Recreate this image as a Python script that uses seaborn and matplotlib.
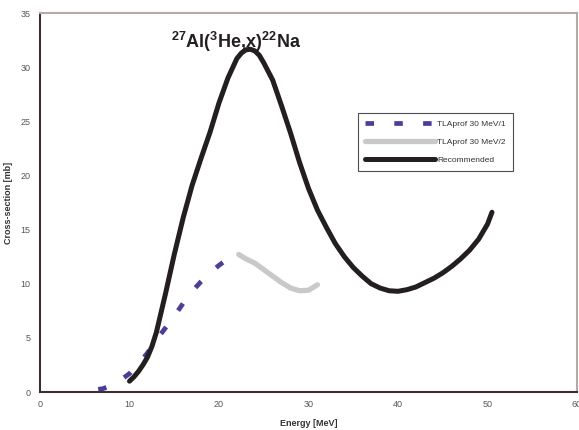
import matplotlib
matplotlib.use("Agg")
import matplotlib.pyplot as plt
import seaborn as sns
import pandas as pd

# ---- data ----
energy_tla1 = [6.5, 7, 8, 9, 10, 11, 12, 13, 14, 15, 16, 17, 18, 19, 20, 21, 21.3]
xs_tla1 = [0.25, 0.3, 0.6, 1.1, 1.7, 2.6, 3.6, 4.8, 5.9, 7.0, 8.2, 9.3, 10.2, 11.0, 11.7, 12.3, 12.5]

energy_tla2 = [22.2, 23, 24, 25, 26, 27, 28, 29, 30, 31]
xs_tla2 = [12.7, 12.3, 11.9, 11.3, 10.7, 10.1, 9.6, 9.35, 9.4, 9.9]

energy_rec = [10, 10.5, 11, 11.5, 12, 12.5, 13, 14, 15, 16, 17, 18, 19, 20, 21, 22, 22.5, 23,
              23.5, 24, 24.5, 25, 26, 27, 28, 29, 30, 31, 32, 33, 34, 35, 36, 37, 38, 39, 40,
              41, 42, 43, 44, 45, 46, 47, 48, 49, 50, 50.5]
xs_rec = [1.0, 1.4, 1.9, 2.5, 3.2, 4.2, 5.5, 9.0, 12.7, 16.1, 19.1, 21.6, 24.0, 26.7, 29.0,
          30.8, 31.3, 31.6, 31.65, 31.5, 31.1, 30.4, 28.8, 26.4, 23.9, 21.2, 18.8, 16.8,
          15.2, 13.7, 12.5, 11.5, 10.7, 10.0, 9.6, 9.35, 9.3, 9.45, 9.7, 10.1, 10.5, 11.0,
          11.6, 12.3, 13.1, 14.1, 15.5, 16.6]

labels = ["TLAprof 30 MeV/1", "TLAprof 30 MeV/2", "Recommended"]
x_ticks = [0, 10, 20, 30, 40, 50, 60]
y_ticks = [0, 5, 10, 15, 20, 25, 30, 35]

sns.set_style("white")
plt.rcParams["font.family"] = ["Liberation Sans", "DejaVu Sans"]
plt.rcParams["mathtext.fontset"] = "custom"
plt.rcParams["mathtext.rm"] = "Liberation Sans:bold"
plt.rcParams["mathtext.it"] = "Liberation Sans:bold"
plt.rcParams["mathtext.bf"] = "Liberation Sans:bold"
plt.rcParams["mathtext.default"] = "rm"

fig = plt.figure(figsize=(5.79, 4.30), dpi=100)
ax = fig.add_axes([40 / 579, 1 - 392 / 430, 537 / 579, 379 / 430])

df1 = pd.DataFrame({"E": energy_tla1, "XS": xs_tla1})
df2 = pd.DataFrame({"E": energy_tla2, "XS": xs_tla2})
df3 = pd.DataFrame({"E": energy_rec, "XS": xs_rec})

sns.lineplot(data=df1, x="E", y="XS", ax=ax, color="#4a3f98", linewidth=3.4,
             label=labels[0], solid_capstyle="butt")
ax.lines[-1].set_dashes([1.8, 4.3])
ax.lines[-1].set_dash_capstyle("butt")
sns.lineplot(data=df2, x="E", y="XS", ax=ax, color="#c9c9c9", linewidth=3.8,
             label=labels[1])
sns.lineplot(data=df3, x="E", y="XS", ax=ax, color="#231f20", linewidth=3.6,
             label=labels[2], solid_capstyle="round")

ax.set_xlim(0, 60)
ax.set_ylim(0, 35)
ax.set_xticks(x_ticks)
ax.set_yticks(y_ticks)
ax.tick_params(axis="x", direction="in", length=3, width=0.8, colors="#3a3030",
               labelsize=6.5, labelcolor="#555555", pad=6)
ax.tick_params(axis="y", direction="out", length=3, width=0.8, colors="#3a3030",
               labelsize=6.5, labelcolor="#555555", pad=4)

for side in ["left", "bottom"]:
    ax.spines[side].set_color("#3a3030")
    ax.spines[side].set_linewidth(1.5)
for side in ["top", "right"]:
    ax.spines[side].set_visible(True)
    ax.spines[side].set_color("#b8a8a6")
    ax.spines[side].set_linewidth(1.5)

ax.set_xlabel("Energy [MeV]", fontsize=6.5, fontweight="bold", color="#333333", labelpad=7)
ax.set_ylabel("Cross-section [mb]", fontsize=6.5, fontweight="bold", color="#333333", labelpad=5)

ax.text(21.9, 31.8, r"$^{27}$Al($^{3}$He,x)$^{22}$Na", fontsize=13, fontweight="bold",
        ha="center", va="baseline", color="#231f20")

leg = ax.legend(loc="upper left", bbox_to_anchor=(0.592, 0.737), fontsize=6,
                handlelength=8.4, handletextpad=0.2, borderpad=0.9, labelspacing=1.2,
                frameon=True, fancybox=False, borderaxespad=0)
leg.get_frame().set_edgecolor("#222222")
leg.get_frame().set_linewidth(0.8)
for t in leg.get_texts():
    t.set_color("#333333")

fig.savefig("out.png", dpi=100)
